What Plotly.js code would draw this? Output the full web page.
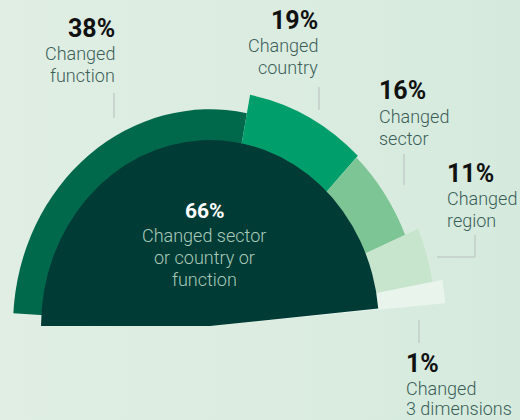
<!DOCTYPE html>
<html><head><meta charset="utf-8">
<script src="https://cdn.plot.ly/plotly-3.0.1.min.js"></script>
<style>
html,body{margin:0;padding:0;}
body{width:520px;height:420px;overflow:hidden;background:linear-gradient(90deg,#e0eee3 0%,#dcece1 50%,#d5eadd 100%);}
#chart{width:520px;height:420px;}
#chart path.point{filter:url(#sh);}
/* perspective of the illustration: the half-disk is drawn slightly taller than wide */
#chart .svg-container > svg.main-svg:first-of-type{transform:scale(1.2,1.32);transform-origin:210px 326px;}
</style></head><body>
<svg width="0" height="0" style="position:absolute"><defs><filter id="sh" x="-30%" y="-30%" width="160%" height="160%"><feDropShadow dx="0" dy="1.5" stdDeviation="3.2" flood-color="#0a3a2c" flood-opacity="0.3"/></filter></defs></svg>
<div id="chart"></div>
<script>
// ---- data ----
const categories = ['Changed<br>function', 'Changed<br>country', 'Changed<br>sector', 'Changed<br>region', 'Changed<br>3 dimensions'];
const shares = [38, 19, 16, 11, 1];
const totalLabel = 'Changed sector<br>or country or<br>function';
const totalShare = 66;

// ---- geometry / style of the illustration ----
const W = 520, H = 420, CX = 210, CY = 326, R = 200, RMAX = 240;
const edges = [176.6, 79.2, 46.3, 23, 10.2, 5];     // wedge boundary angles (deg)
const ringR = [197, 214, 212, 226, 236];           // outer radius of each wedge
const ringColors = ['#00694b', '#009e6b', '#7dc594', '#c7e4cd', '#e9f5ec'];
const diskFrom = 5.4, diskTo = 180, diskR = 169, diskColor = '#003b36';

const px = x => x / W, py = y => 1 - y / H;

const ring = {
  type: 'barpolar',
  r: ringR,
  theta: shares.map((s, i) => (edges[i] + edges[i + 1]) / 2),
  width: shares.map((s, i) => edges[i] - edges[i + 1]),
  customdata: shares,
  marker: {color: ringColors, line: {width: 0}},
  hoverinfo: 'skip'
};
const disk = {
  type: 'barpolar',
  r: [diskR],
  theta: [(diskFrom + diskTo) / 2],
  width: [diskTo - diskFrom],
  customdata: [totalShare],
  marker: {color: diskColor, line: {width: 0}},
  hoverinfo: 'skip'
};

const numFont = {family: 'Roboto, sans-serif', size: 25, weight: 700, color: '#111111'};
const labFont = {family: 'Roboto, sans-serif', size: 18, weight: 300, color: '#3a5e58'};

// label placement (px): x, number baseline, label line baselines
const labelPos = [
  {x: 117, num: 37, lines: [60, 82], anchor: 'right'},
  {x: 320, num: 29, lines: [52, 73.5], anchor: 'right'},
  {x: 377, num: 99, lines: [123, 145], anchor: 'left'},
  {x: 445, num: 182, lines: [205, 227], anchor: 'left'},
  {x: 404, num: 372, lines: [394.5, 415], anchor: 'left'}
];
const annotations = [];
const addText = (x, baseline, text, font, anchor) => annotations.push({
  xref: 'paper', yref: 'paper', x: px(x), y: py(baseline - 0.342 * font.size),
  xanchor: anchor, yanchor: 'middle', text: text, showarrow: false, font: font, align: anchor});
shares.forEach((s, i) => {
  const p = labelPos[i];
  addText(p.x, p.num, s + '%', numFont, p.anchor);
  categories[i].split('<br>').forEach((ln, j) => addText(p.x, p.lines[j], ln, labFont, p.anchor));
});
addText(205, 218, totalShare + '%', {family: 'Roboto, sans-serif', size: 21, weight: 700, color: '#ffffff'}, 'center');
const innerFont = {family: 'Roboto, sans-serif', size: 18, weight: 300, color: '#aacbb9'};
[241.5, 263.5, 285.5].forEach((b, j) => addText(204, b, totalLabel.split('<br>')[j], innerFont, 'center'));

const lineStyle = {color: '#c3ccc8', width: 1.5};
const seg = (x0, y0, x1, y1) => ({type: 'line', xref: 'paper', yref: 'paper', x0: px(x0), y0: py(y0), x1: px(x1), y1: py(y1), line: lineStyle});
const shapes = [
  seg(114, 93, 114, 118),
  seg(319, 87, 319, 110),
  seg(404, 154, 404, 185),
  seg(475, 235, 475, 257),
  seg(475, 257, 437, 257),
  seg(419, 320, 419, 343)
];

const layout = {
  width: W, height: H,
  margin: {l: 0, r: 0, t: 0, b: 0},
  paper_bgcolor: 'rgba(0,0,0,0)',
  plot_bgcolor: 'rgba(0,0,0,0)',
  showlegend: false,
  polar: {
    domain: {x: [(CX - R) / W, (CX + R) / W], y: [(H - CY) / H, (H - CY + R) / H]},
    sector: [0, 180],
    barmode: 'overlay',
    bgcolor: 'rgba(0,0,0,0)',
    radialaxis: {visible: false, range: [0, RMAX], showgrid: false},
    angularaxis: {visible: false, showgrid: false, rotation: 0, direction: 'counterclockwise'}
  },
  annotations: annotations,
  shapes: shapes
};
Plotly.newPlot('chart', [ring, disk], layout, {displayModeBar: false, staticPlot: true});
</script>
</body></html>
